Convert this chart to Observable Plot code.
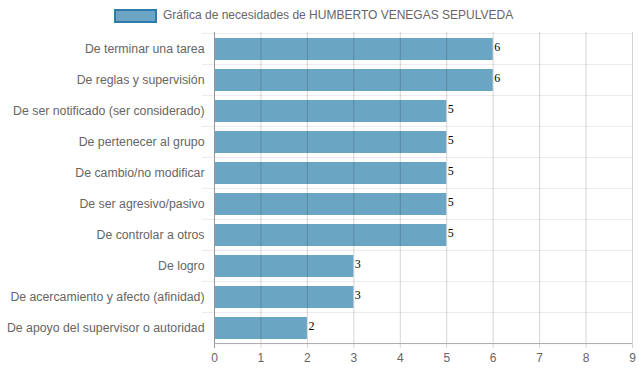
<!DOCTYPE html>
<html><head><meta charset="utf-8">
<script src="https://cdn.jsdelivr.net/npm/d3@7"></script>
<script src="https://cdn.jsdelivr.net/npm/@observablehq/plot@0.6"></script>
<style>
body{margin:0;background:#fff;}
#wrap{position:relative;width:639px;height:372px;font-family:"Liberation Sans",Arial,sans-serif;}
#legend{position:relative;height:26px;}
#legend .box{position:absolute;left:114px;top:9px;width:43px;height:14px;box-sizing:border-box;border:2px solid #2f7cab;background:#6aa6c4;}
#legend .lbl{position:absolute;left:163px;top:7px;font-size:12px;color:#666;line-height:16px;white-space:nowrap;}
#chart svg{display:block;}
</style></head>
<body><div id="wrap"><div id="legend"><div class="box"></div><div class="lbl">Gráfica de necesidades de HUMBERTO VENEGAS SEPULVEDA</div></div><div id="chart"></div></div>
<script>
const categories = [
  "De terminar una tarea",
  "De reglas y supervisión",
  "De ser notificado (ser considerado)",
  "De pertenecer al grupo",
  "De cambio/no modificar",
  "De ser agresivo/pasivo",
  "De controlar a otros",
  "De logro",
  "De acercamiento y afecto (afinidad)",
  "De apoyo del supervisor o autoridad"
];
const values = [6, 6, 5, 5, 5, 5, 5, 3, 3, 2];
const xTicks = [0, 1, 2, 3, 4, 5, 6, 7, 8, 9];

const data = categories.map((c, i) => ({c, v: values[i]}));
const H = 346, MT = 6, MB = 29;
const half = (H - MT - MB) / categories.length / 2;

const plot = Plot.plot({
  width: 639, height: H,
  marginTop: MT, marginBottom: MB, marginLeft: 214, marginRight: 7,
  style: {fontFamily: "Liberation Sans, Arial, sans-serif", fontSize: "12px", background: "#fff", overflow: "visible"},
  x: {domain: [0, 9], ticks: xTicks, label: null},
  y: {domain: categories, padding: 0, label: null},
  marks: [
    Plot.ruleY(categories, {y: d => d, dy: -half, x1: -0.26, x2: 9, stroke: "#ebebeb"}),
    Plot.barX(data, {y: "c", x: "v", fill: "#6aa6c4", insetTop: 5, insetBottom: 4}),
    Plot.ruleX(xTicks, {x: d => d, stroke: "rgba(0,0,0,0.17)", insetBottom: -5}),
    Plot.ruleX([0], {x: d => d, stroke: "#999", insetBottom: -5}),
    Plot.ruleY([categories[categories.length - 1]], {y: d => d, dy: half, x1: 0, x2: 9, stroke: "#aaa"}),
    Plot.text(data, {y: "c", x: "v", text: d => String(d.v), textAnchor: "start", dx: 1, dy: -2, fill: "#000", fontFamily: "Liberation Serif, Times New Roman, serif", fontSize: 12}),
    Plot.axisY({tickSize: 0, tickPadding: 10, fill: "#666", fontSize: 12.3, label: null}),
    Plot.axisX({ticks: xTicks, tickFormat: d => String(d), tickSize: 0, tickPadding: 10, fill: "#666", fontSize: 12, label: null})
  ]
});
document.getElementById("chart").appendChild(plot);
</script>
</body></html>
